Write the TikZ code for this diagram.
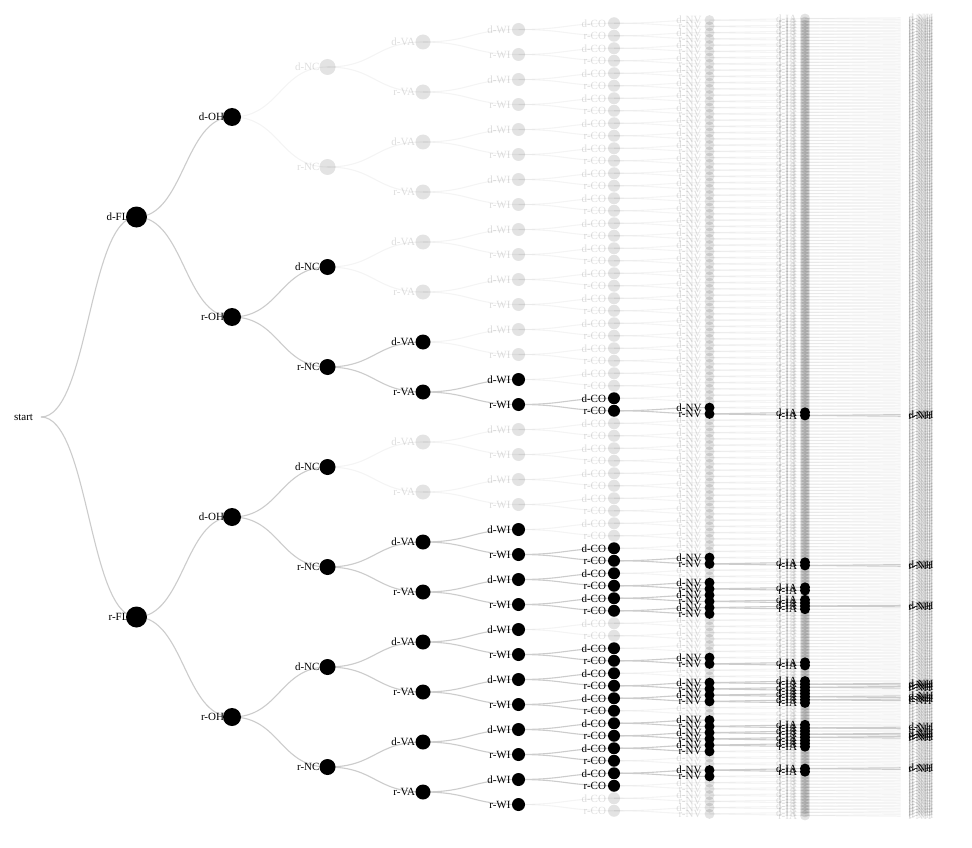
\documentclass[tikz,border=0pt]{standalone}
\usepackage{fontspec}
\setmainfont{Liberation Serif}

\newcommand\evof[1]{\ifcase#1 0\or29\or18\or15\or13\or10\or9\or6\or6\or4\fi}
\newcommand\stof[1]{\ifcase#1 \or FL\or OH\or NC\or VA\or WI\or CO\or NV\or IA\or NH\fi}
\newcommand\radof[1]{\ifcase#1 0\or10.5\or9\or8\or7.5\or6.5\or6\or5\or5\or0\fi}

\tikzset{
  lab/.style={font=\fontsize{11}{13}\selectfont, inner sep=0pt, outer sep=0pt},
  greylab/.style={text opacity=0.13},
  blackedge/.style={draw=black!20, line width=1.1pt},
  greyedge/.style={draw=black, draw opacity=0.045, line width=1.1pt},
  blacknode/.style={fill=black},
  greynode/.style={fill=black, fill opacity=0.11},
}

% pass 1: grey edges, 2: black edges, 3: grey nodes, 4: black nodes
\def\pass{1}

\newcommand\growtree[6]{%
  \ifnum#1<9\relax
    \def\cb{0}%
    \ifnum#6=1 \ifnum#4<33 \ifnum#5<78 \def\cb{1}\fi\fi\fi
    \dochild{#1}{#2}{#3}{#4}{#5}{d}{-1}%
    \dochild{#1}{#2}{#3}{#4}{#5}{r}{1}%
  \fi}

\newcommand\dochild[7]{%
  \begingroup
  \edef\kk{\the\numexpr#1+1\relax}%
  \pgfmathsetmacro\cy{#3+(#7)*200/(2^#1)}%
  \pgfmathsetmacro\px{41+95.5*#1}%
  \pgfmathsetmacro\cx{41+95.5*\kk}%
  \pgfmathsetmacro\xm{(\px+\cx)/2}%
  \edef\ev{\evof{\kk}}%
  \if#6d\edef\dd{\the\numexpr#4+\ev\relax}\edef\rr{#5}\else\edef\dd{#4}\edef\rr{\the\numexpr#5+\ev\relax}\fi
  \edef\nm{#2#6}%
  \edef\lab{#6-\stof{\kk}}%
  \edef\rad{\radof{\kk}}%
  \ifnum\pass=1 \coordinate (\nm) at (\cx,\cy);\fi
  \ifnum\cb=1
    \ifnum\pass=2
      \draw[blackedge] (#2) .. controls (\xm,#3) and (\xm,\cy) .. (\nm);
    \fi
    \ifnum\pass=4
      \ifnum\kk<9
        \node[lab, anchor=east] (\nm-l) at ([xshift=-8pt]\nm) {\lab};
        \fill[blacknode] (\nm) circle[radius=\rad pt];
      \else
        \node[lab, anchor=west] (\nm-l) at ([xshift=8pt]\nm) {\lab};
      \fi
    \fi
  \else
    \ifnum\pass=1
      \draw[greyedge] (#2) .. controls (\xm,#3) and (\xm,\cy) .. (\nm);
    \fi
    \ifnum\pass=3
      \ifnum\kk<9
        \node[lab, greylab, anchor=east] (\nm-l) at ([xshift=-8pt]\nm) {\lab};
        \fill[greynode] (\nm) circle[radius=\rad pt];
      \else
        \node[lab, greylab, anchor=west] (\nm-l) at ([xshift=8pt]\nm) {\lab};
      \fi
    \fi
  \fi
  \edef\next{\noexpand\growtree{\kk}{\nm}{\cy}{\dd}{\rr}{\cb}}\next
  \endgroup}

\begin{document}
\begin{tikzpicture}[x=1pt,y=-1pt]
\fill[white] (0,0) rectangle (972,848);
\useasboundingbox (0,0) rectangle (972,848);
\coordinate (n) at (41,417);
\node[lab, anchor=east] (n-l) at ([xshift=-8pt]n) {start};
\def\pass{1}\growtree{0}{n}{417}{0}{0}{1}
\def\pass{2}\growtree{0}{n}{417}{0}{0}{1}
\def\pass{3}\growtree{0}{n}{417}{0}{0}{1}
\def\pass{4}\growtree{0}{n}{417}{0}{0}{1}
\end{tikzpicture}
\end{document}
